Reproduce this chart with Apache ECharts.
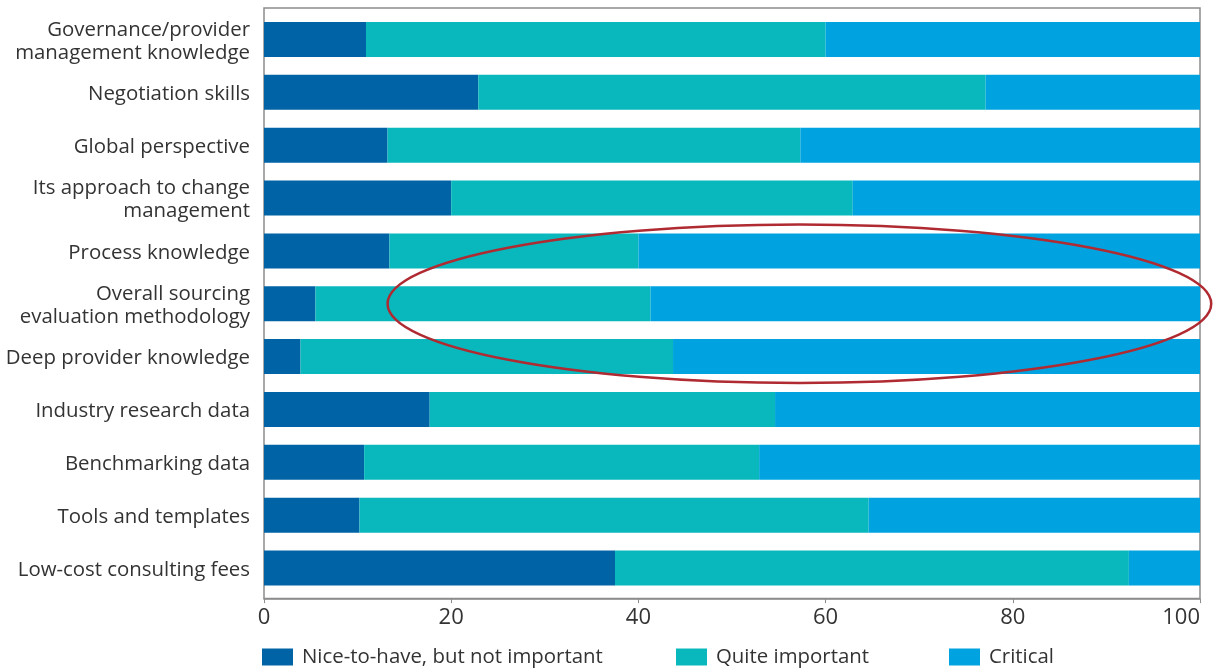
<!DOCTYPE html>
<html>
<head>
<meta charset="utf-8">
<script src="https://cdn.jsdelivr.net/npm/echarts@6/dist/echarts.min.js"></script>
<style>
  html, body { margin: 0; padding: 0; background: #ffffff; }
  #chart { width: 1215px; height: 668px; }
</style>
</head>
<body>
<div id="chart"></div>
<script>
// ---- data ----
const categories = [
  'Governance/provider\nmanagement knowledge',
  'Negotiation skills',
  'Global perspective',
  'Its approach to change\nmanagement',
  'Process knowledge',
  'Overall sourcing\nevaluation methodology',
  'Deep provider knowledge',
  'Industry research data',
  'Benchmarking data',
  'Tools and templates',
  'Low-cost consulting fees'
];
const seriesNames = ['Nice-to-have, but not important', 'Quite important', 'Critical'];
const niceToHave = [10.9, 22.9, 13.2, 20.0, 13.4, 5.5, 3.9, 17.7, 10.7, 10.2, 37.5];
const quiteImportant = [49.1, 54.2, 44.1, 42.9, 26.6, 35.8, 39.8, 36.9, 42.2, 54.4, 54.9];
const critical = [40.0, 22.9, 42.7, 37.1, 60.0, 58.7, 56.3, 45.4, 47.1, 35.4, 7.6];
const xTicks = [0, 20, 40, 60, 80, 100];

// ---- style / layout ----
const FONT = '"Open Sans", "DejaVu Sans", sans-serif';
const COLORS = ['#0063A6', '#08B8BC', '#00A3E0'];
const GRID = { left: 264, right: 15, top: 13, bottom: 73.5 };
const FRAME_PAD = 4.6;

const chart = echarts.init(document.getElementById('chart'), null, { renderer: 'canvas' });

function legendFor(i, left) {
  return {
    data: [seriesNames[i]],
    left: left,
    top: 647,
    itemWidth: 31,
    itemHeight: 17,
    icon: 'rect',
    padding: 0,
    textStyle: { fontFamily: FONT, fontSize: 20.4, color: '#333333', padding: [0, 0, 0, 4] }
  };
}

const option = {
  animation: false,
  backgroundColor: '#ffffff',
  color: COLORS,
  grid: {
    left: GRID.left, right: GRID.right, top: GRID.top, bottom: GRID.bottom,
    containLabel: false, outerBoundsMode: 'none'
  },
  legend: [legendFor(0, 262), legendFor(1, 676), legendFor(2, 949)],
  xAxis: {
    type: 'value',
    min: xTicks[0],
    max: xTicks[xTicks.length - 1],
    interval: xTicks[1] - xTicks[0],
    offset: FRAME_PAD,
    axisLine: { show: true, lineStyle: { color: '#8c8c8c', width: 1.5 } },
    axisTick: { show: true, length: 4, lineStyle: { color: '#8c8c8c' } },
    splitLine: { show: false },
    axisLabel: { fontFamily: FONT, fontSize: 22, color: '#333333', margin: 8, alignMaxLabel: 'right' }
  },
  yAxis: {
    type: 'category',
    data: categories,
    inverse: true,
    axisLine: { show: false },
    axisTick: { show: false },
    splitLine: { show: false },
    axisLabel: {
      margin: 14,
      align: 'right',
      formatter: function (v) {
        return '{s|}\n' + v.split('\n').map(function (l) { return '{t|' + l + '}'; }).join('\n');
      },
      rich: {
        s: { fontSize: 1, lineHeight: 4 },
        t: { fontFamily: FONT, fontSize: 20.4, color: '#333333', lineHeight: 23, align: 'right' }
      }
    }
  },
  series: [
    { name: seriesNames[0], type: 'bar', stack: 'total', barWidth: 35, data: niceToHave },
    { name: seriesNames[1], type: 'bar', stack: 'total', barWidth: 35, data: quiteImportant },
    { name: seriesNames[2], type: 'bar', stack: 'total', barWidth: 35, data: critical }
  ]
};
chart.setOption(option);

// ---- frame and ellipse annotation, positioned via the chart's own scales ----
const ELLIPSE_CENTER_VALUE = 57.2;
const ELLIPSE_CATEGORY = 5;
const ELLIPSE_RX_VALUE = 44.0;
const ELLIPSE_RY_BANDS = 1.5;

const x0 = chart.convertToPixel({ xAxisIndex: 0 }, xTicks[0]);
const x100 = chart.convertToPixel({ xAxisIndex: 0 }, xTicks[xTicks.length - 1]);
const yFirst = chart.convertToPixel({ yAxisIndex: 0 }, 0);
const yLast = chart.convertToPixel({ yAxisIndex: 0 }, categories.length - 1);
const band = (yLast - yFirst) / (categories.length - 1);
const gridTop = yFirst - band / 2;
const gridBottom = yLast + band / 2;

const cx = chart.convertToPixel({ xAxisIndex: 0 }, ELLIPSE_CENTER_VALUE);
const cy = chart.convertToPixel({ yAxisIndex: 0 }, ELLIPSE_CATEGORY);
const rx = chart.convertToPixel({ xAxisIndex: 0 }, ELLIPSE_RX_VALUE) - x0;
const ry = band * ELLIPSE_RY_BANDS;

chart.setOption({
  graphic: [
    {
      type: 'rect',
      z: -1,
      silent: true,
      shape: { x: x0, y: gridTop - FRAME_PAD - 0.5, width: x100 - x0, height: (gridBottom + FRAME_PAD) - (gridTop - FRAME_PAD) },
      style: { fill: 'none', stroke: '#8c8c8c', lineWidth: 1.5 }
    },
    {
      type: 'ellipse',
      z: 100,
      silent: true,
      shape: { cx: cx, cy: cy, rx: rx, ry: ry },
      style: { fill: 'none', stroke: '#B02A32', lineWidth: 2.5 }
    }
  ]
});
</script>
</body>
</html>
